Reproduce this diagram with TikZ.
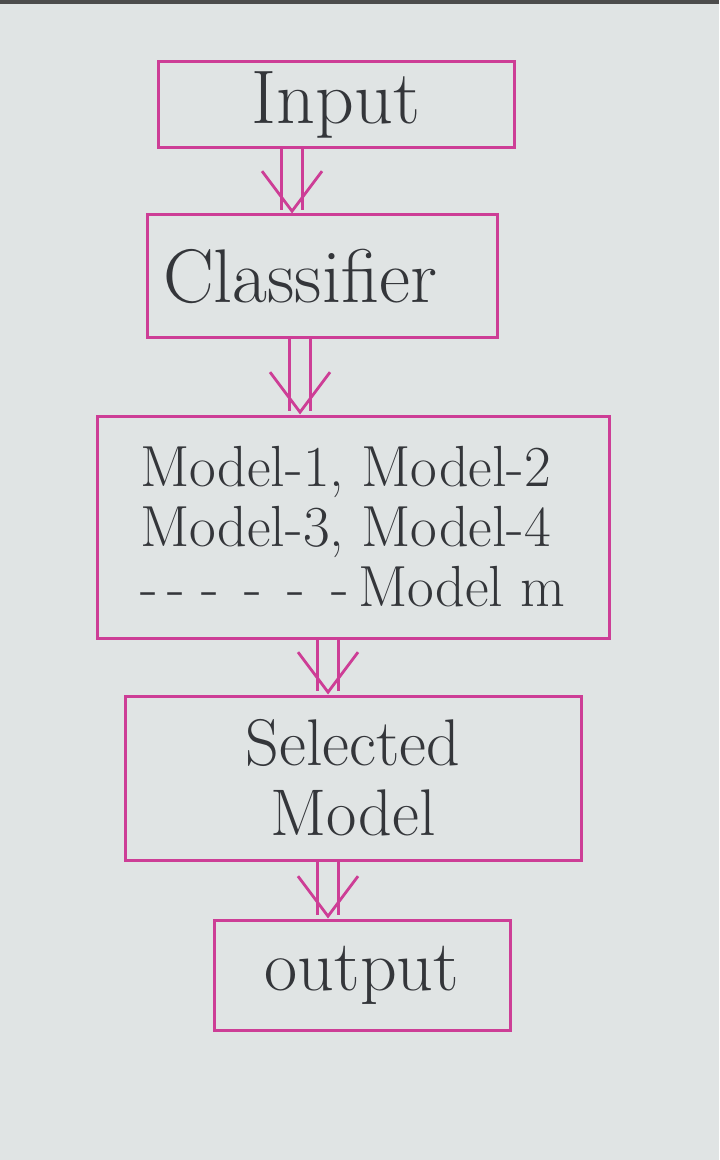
\documentclass[tikz,border=0pt]{standalone}
\usetikzlibrary{arrows.meta}
\definecolor{paper}{RGB}{224,228,228}
\definecolor{penpink}{RGB}{205,62,150}
\definecolor{ink}{RGB}{52,54,58}

\begin{document}
\begin{tikzpicture}[x=0.5pt, y=-0.5pt,
  stepbox/.style={draw=penpink, line width=1.5pt, text=ink, inner sep=0pt,
                  font=\fontsize{36}{36}\selectfont, align=center},
  flow/.style={draw=penpink, line width=1.4pt, double=paper, double distance=9pt,
               -{Straight Barb[length=20pt, width=30pt, line width=1.4pt]}},
]
% page
\fill[paper] (0,0) rectangle (719,1160);
\fill[black!70] (0,0) rectangle (719,4);
\useasboundingbox (0,0) rectangle (719,1160);

% Boxes
\node[stepbox, minimum width=178pt, minimum height=43pt,
      font=\fontsize{38}{38}\selectfont] (in) at (336,105) {Input};
\node[stepbox, minimum width=175pt, minimum height=61pt,
      font=\fontsize{38}{38}\selectfont] (cls) at (322,276) {Classifier\hspace{22pt}};
\node[stepbox, minimum width=256pt, minimum height=111pt, align=left,
      font=\fontsize{29}{30}\selectfont] (mdl) at (353,527)
  {Model-1, Model-2\\Model-3, Model-4\\{-}\,{-}\;{-}\;\,{-}\;\,{-}\;\,{-}\,Model m};
\node[stepbox, minimum width=228pt, minimum height=82pt,
      font=\fontsize{33}{35}\selectfont] (sel) at (353,778) {Selected\\Model};
\node[stepbox, minimum width=148pt, minimum height=55pt] (out) at (362,975) {output};

% Arrows
\draw[flow] ([xshift=-22pt]in.south)  -- ([xshift=-15pt]cls.north);
\draw[flow] ([xshift=-11pt]cls.south) -- ([xshift=-26.5pt]mdl.north);
\draw[flow] ([xshift=-12.5pt]mdl.south) -- ([xshift=-12.5pt]sel.north);
\draw[flow] ([xshift=-12.5pt]sel.south) -- ([xshift=-17pt]out.north);

\end{tikzpicture}
\end{document}
